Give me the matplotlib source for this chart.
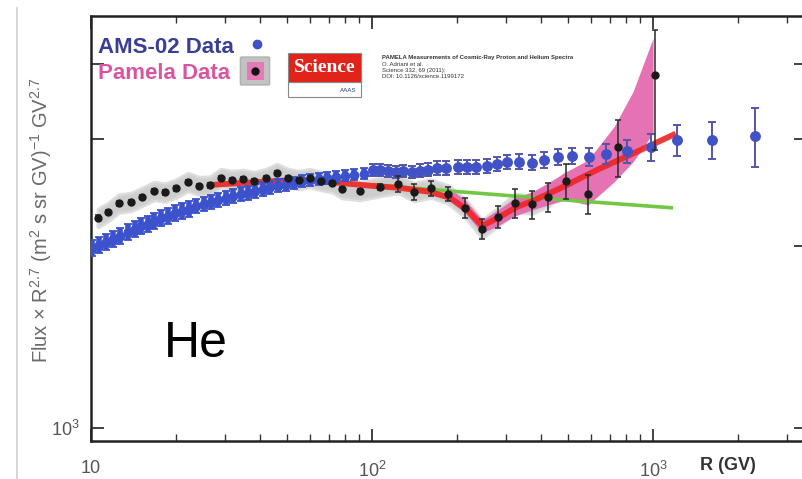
import matplotlib
matplotlib.use('Agg')
import matplotlib.pyplot as plt
from matplotlib.patches import Rectangle, FancyBboxPatch
from matplotlib.lines import Line2D
from matplotlib.ticker import FixedLocator, FixedFormatter, NullFormatter

W, H = 803, 479

plt.rcParams['font.family'] = ['Liberation Sans', 'DejaVu Sans']
plt.rcParams['mathtext.default'] = 'regular'

# AMS-02 helium, fine binning (10 - 100 GV)
ams_r = [10.1, 10.7, 11.3, 12.0, 12.7, 13.5, 14.3, 15.1, 15.9, 16.8, 17.8, 18.8,
         19.9, 21.1, 22.4, 23.7, 25.2, 26.7, 28.4, 30.2, 32.1, 34.1, 36.1, 38.4,
         40.8, 43.4, 46.2, 49.3, 52.7, 56.3, 60.3, 64.6, 69.4, 74.6, 80.4, 86.6, 93.5]
ams_flux = [1984, 2006, 2029, 2053, 2076, 2108, 2133, 2157, 2174, 2198, 2224, 2241,
            2267, 2284, 2301, 2328, 2346, 2364, 2382, 2400, 2418, 2437, 2446, 2465,
            2483, 2502, 2512, 2521, 2541, 2560, 2570, 2580, 2590, 2600, 2610, 2620, 2630]
ams_err = [62, 62, 63, 63, 64, 64, 65, 65, 65, 65, 66, 66,
           66, 66, 66, 66, 66, 66, 66, 66, 65, 65, 64, 64,
           63, 62, 62, 61, 60, 60, 59, 58, 57, 56, 55, 55, 55]

# AMS-02 helium, coarse binning (> 100 GV)
ams_r_hi = [100.8, 106.8, 114, 121.7, 128.9, 138.8, 148.2, 158.2, 170.3, 183.4,
            202.3, 217.8, 234.5, 256.6, 278.6, 302.3, 333.6, 370.9, 409.3, 459,
            515, 592, 680, 808, 984, 1217, 1622, 2306]
ams_flux_hi = [2670, 2670, 2660, 2650, 2660, 2650, 2660, 2670, 2690, 2690,
               2700, 2700, 2700, 2712, 2733, 2754, 2754, 2743, 2773, 2805,
               2816, 2805, 2838, 2870, 2914, 2993, 2993, 3039]
ams_err_hi = [60, 60, 62, 62, 64, 64, 66, 66, 68, 68,
              70, 70, 72, 72, 75, 75, 78, 78, 80, 85,
              90, 95, 110, 125, 150, 180, 210, 340]

# PAMELA helium
pam_r = [10.59, 11.5, 12.58, 13.88, 15.19, 16.76, 18.34, 20.07, 22.14, 24.23,
         26.51, 29.01, 31.75, 34.74, 38.02, 41.96, 45.91, 50.23, 54.97, 60.15,
         65.82, 72.03, 78.2, 90.6, 106.8, 123.7, 141.1, 162.2, 186.5, 214.3,
         246.4, 280.8, 322.8, 371.0, 423.0, 490.1, 587.0, 750.7, 1016]
pam_flux = [2224, 2275, 2350, 2364, 2409, 2465, 2450, 2488, 2551, 2512,
            2516, 2590, 2570, 2580, 2560, 2590, 2639, 2590, 2570, 2590,
            2560, 2541, 2483, 2465, 2502, 2531, 2455, 2488, 2432, 2310,
            2133, 2233, 2355, 2340, 2405, 2560, 2437, 2910, 3834]
pam_err_lo = [20, 20, 20, 20, 20, 20, 20, 20, 20, 20,
              20, 20, 20, 20, 20, 20, 20, 20, 20, 20,
              20, 20, 20, 20, 25, 75, 75, 75, 65, 90,
              83, 96, 129, 128, 131, 171, 183, 309, 953]
pam_err_hi = [20, 20, 20, 20, 20, 20, 20, 20, 20, 20,
              20, 20, 20, 20, 20, 20, 20, 20, 20, 20,
              20, 20, 20, 20, 25, 75, 75, 75, 65, 90,
              83, 96, 129, 128, 131, 171, 183, 322, 711]
pam_sys = 0.033  # relative width of the grey systematic band

# PAMELA fit uncertainty (pink) band
band_r = [186.5, 214.3, 246.4, 280.8, 322.8, 371, 423, 490, 587, 727, 849, 1000]
band_lo = [2382, 2267, 2101, 2157, 2241, 2293, 2337, 2382, 2337, 2551, 2754, 3074]
band_hi = [2493, 2382, 2207, 2293, 2400, 2455, 2541, 2650, 2773, 3150, 3600, 4413]

# broken power-law fit (red) and single power law (green)
fit_r = [26.5, 39.9, 55.4, 76.9, 100, 125.8, 160.9, 189.5, 217.8, 246.4,
         280.8, 328, 374, 478.3, 632, 828, 1178]
fit_flux = [2521, 2551, 2570, 2541, 2512, 2493, 2455, 2400, 2293, 2157,
            2224, 2319, 2373, 2502, 2670, 2827, 3051]
pl_r = [100, 478, 1178]
pl_flux = [2521, 2382, 2310]


def fx(px):
    return px / W


def fy(py):
    return 1 - py / H


fig = plt.figure(figsize=(W / 100, H / 100), dpi=100)
ax = fig.add_axes([fx(91), fy(441), fx(806) - fx(91), fy(16) - fy(441)])
ax.set_xscale('log')
ax.set_yscale('log')
ax.set_xlim(10, 3500)
ax.set_ylim(950, 4800)

# bands
n_grey = 36
ax.fill_between(pam_r[:n_grey], [f * (1 - pam_sys) for f in pam_flux[:n_grey]],
                [f * (1 + pam_sys) for f in pam_flux[:n_grey]],
                color='#bdbdbd', alpha=0.75, lw=3, edgecolor='#d4d4d4', zorder=1)
ax.fill_between(band_r, band_lo, band_hi, color='#e46aae', lw=0, alpha=0.95, zorder=2)

# fits
ax.plot(pl_r, pl_flux, color='#72c844', lw=2.6, zorder=3, solid_capstyle='butt')
ax.plot(fit_r, fit_flux, color='#ee2424', lw=4.2, zorder=4, alpha=0.9)

# AMS-02
_, caps, _ = ax.errorbar(ams_r, ams_flux, yerr=ams_err, fmt='o', ms=6,
                         color='#3b52cc', ecolor='#3b52cc', elinewidth=4,
                         capsize=3, capthick=1.3, zorder=5)
for c in caps:
    c.set_color('#dfe2f4')
ax.errorbar(ams_r_hi, ams_flux_hi, yerr=ams_err_hi, fmt='o', ms=6.8,
            color='#4152c6', ecolor='#5456a6', elinewidth=1.4,
            capsize=3, capthick=1.4, zorder=5)

# PAMELA
ax.errorbar(pam_r, pam_flux, yerr=[pam_err_lo, pam_err_hi], fmt='o', ms=5,
            color='#1a1a1a', ecolor='#2a2a2a', elinewidth=1.1,
            capsize=2.5, capthick=1.1, zorder=6)

# axes styling
for s in ax.spines.values():
    s.set_linewidth(1.8)
    s.set_color('#222222')
ax.xaxis.set_major_locator(FixedLocator([10, 100, 1000]))
ax.xaxis.set_major_formatter(FixedFormatter(['10', '$10^{2}$', '$10^{3}$']))
ax.xaxis.set_minor_locator(FixedLocator([20, 30, 40, 50, 60, 70, 80, 90,
                                         200, 300, 400, 500, 600, 700, 800, 900,
                                         2000, 3000]))
ax.xaxis.set_minor_formatter(NullFormatter())
ax.yaxis.set_major_locator(FixedLocator([1000, 2000, 3000, 4000]))
ax.yaxis.set_major_formatter(FixedFormatter(['$10^{3}$', '', '', '']))
ax.yaxis.set_minor_locator(FixedLocator([]))
ax.tick_params(which='both', direction='in', top=True, right=True,
               colors='#333333', labelcolor='#555555', labelsize=13)
ax.tick_params(which='major', length=9, width=1.3)
ax.tick_params(which='minor', length=5, width=1.0)
ax.tick_params(axis='x', pad=14)
ax.tick_params(axis='y', pad=8)

ax.set_ylabel(r'Flux $\times$ R$^{2.7}$ (m$^{2}$ s sr GV)$^{-1}$ GV$^{2.7}$',
              fontsize=14.5, color='#6a6a6a')
ax.yaxis.set_label_coords(-0.052, 0.52)
fig.text(fx(700), fy(466), 'R (GV)', fontsize=13, fontweight='bold',
         color='#333333', ha='left', va='center')

fig.text(fx(164), fy(357), 'He', fontsize=36, color='black',
         family=['Liberation Sans Narrow', 'Liberation Sans'], ha='left', va='baseline')

# legend
fig.text(fx(98), fy(53), 'AMS-02 Data', fontsize=16, fontweight='bold',
         color='#3a3e94', ha='left', va='baseline')
fig.text(fx(98), fy(79), 'Pamela Data', fontsize=16, fontweight='bold',
         color='#d9559f', ha='left', va='baseline')
fig.add_artist(Line2D([fx(257)], [fy(44)], marker='o', ms=6, color='#4152c6',
                      transform=fig.transFigure))
fig.add_artist(FancyBboxPatch((fx(242), fy(84)), fx(26), fy(58) - fy(84),
                              boxstyle='round,pad=0.002', fc='#c2c2c2', ec='#b0b0b0',
                              transform=fig.transFigure))
fig.add_artist(Rectangle((fx(247), fy(80)), fx(17), fy(62) - fy(80),
                         fc='#e57ab5', ec='none', transform=fig.transFigure))
fig.add_artist(Line2D([fx(255.5)], [fy(71)], marker='o', ms=5, color='#111111',
                      transform=fig.transFigure))

# Science reference box
fig.add_artist(Rectangle((fx(288), fy(97)), fx(73), fy(82) - fy(97),
                         fc='white', ec='#888888', lw=0.8, transform=fig.transFigure))
fig.add_artist(Rectangle((fx(288), fy(82)), fx(73), fy(53) - fy(82),
                         fc='#e2231a', ec='#888888', lw=0.8, transform=fig.transFigure))
fig.text(fx(324.5), fy(68), 'Science', fontsize=14, color='white', fontweight='bold',
         family=['Liberation Serif', 'DejaVu Serif'], ha='center', va='center')
fig.text(fx(356), fy(90), 'AAAS', fontsize=4.5, color='#2a3c8a',
         ha='right', va='center')
cite = ['PAMELA Measurements of Cosmic-Ray Proton and Helium Spectra',
        'O. Adriani et al.', 'Science 332, 69 (2011);', 'DOI: 10.1126/science.1199172']
for i, line in enumerate(cite):
    fig.text(fx(382), fy(58 + 6.3 * i), line, fontsize=4.3, color='#333333',
             fontweight='bold' if i == 0 else 'normal', ha='left', va='center')

# scan border on the left
fig.add_artist(Line2D([fx(17), fx(17)], [fy(8), 0], color='#cfcfcf', lw=1.2,
                      transform=fig.transFigure))

fig.savefig('out.png', dpi=100)
